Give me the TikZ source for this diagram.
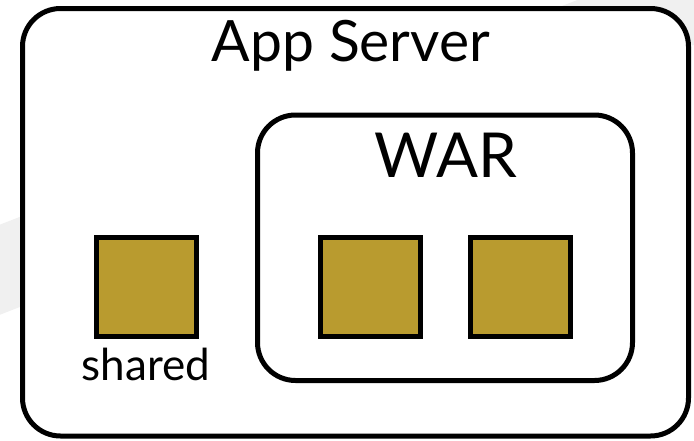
\documentclass[tikz,border=0pt]{standalone}
\usepackage{fontspec}
\setmainfont{Lato}
\usepackage{tikz}
\definecolor{jarfill}{RGB}{185,155,47}

\begin{document}
\begin{tikzpicture}[x=1pt,y=-1pt,
    box/.style={shape=rectangle, draw=black, line width=5pt, fill=white, rounded corners=38pt, inner sep=0pt},
    jar/.style={shape=rectangle, draw=black, line width=5pt, fill=jarfill, minimum width=100pt, minimum height=99pt, inner sep=0pt},
    label/.style={anchor=base, inner sep=0pt}]
    \useasboundingbox (0,0) rectangle (694,440);
    \draw[black!6, line width=84pt] (-60,293) -- (760,-26);
    \node[box, minimum width=666pt, minimum height=427.5pt] at (355.5,222.25) (server) {};
    \node[label, font=\fontsize{57}{62}\selectfont] at (351,61.7) (servername) {App Server};
    \node[box, minimum width=375pt, minimum height=265.5pt] at (445,247.75) (war) {};
    \node[label, font=\fontsize{62}{66}\selectfont] at (446,177) (warname) {WAR};
    \node[jar] at (146.5,287) (shared) {};
    \node[label, font=\fontsize{44}{48}\selectfont] at (146,380) (sharedname) {shared};
    \node[jar] at (370.5,287) (lib1) {};
    \node[jar] at (520,287) (lib2) {};
\end{tikzpicture}
\end{document}
